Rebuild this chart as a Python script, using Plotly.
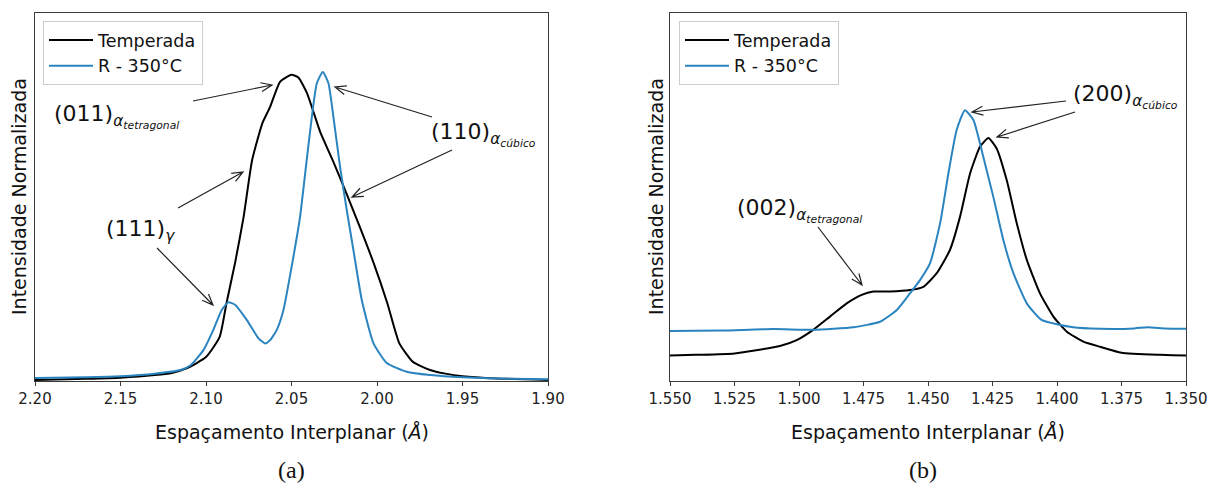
import math
import plotly.graph_objects as go

# ---------------- data ----------------
# Panel (a)
d_a_temp = [2.200, 2.170, 2.150, 2.130, 2.120, 2.111, 2.100, 2.092, 2.088, 2.083,
            2.078, 2.073, 2.067, 2.0625, 2.0567, 2.050, 2.046, 2.041, 2.033, 2.026,
            2.018, 2.010, 2.002, 1.994, 1.987, 1.979, 1.969, 1.960, 1.950, 1.930, 1.900]
i_a_temp = [0.003, 0.006, 0.009, 0.016, 0.022, 0.035, 0.065, 0.120, 0.212, 0.321,
            0.446, 0.601, 0.701, 0.745, 0.813, 0.832, 0.825, 0.783, 0.674, 0.601,
            0.511, 0.418, 0.321, 0.212, 0.103, 0.052, 0.030, 0.020, 0.013, 0.007, 0.003]

d_a_r350 = [2.200, 2.170, 2.150, 2.130, 2.115, 2.109, 2.1015, 2.0957, 2.0908, 2.0869,
            2.083, 2.0762, 2.0693, 2.0654, 2.0625, 2.0586, 2.0547, 2.0499, 2.045, 2.0411,
            2.0381, 2.0352, 2.0317, 2.0284, 2.0255, 2.0216, 2.0177, 2.0138, 2.0089, 2.0021,
            1.9943, 1.9826, 1.9689, 1.950, 1.920, 1.900]
i_a_r350 = [0.008, 0.010, 0.013, 0.020, 0.030, 0.043, 0.084, 0.139, 0.193, 0.214,
            0.207, 0.166, 0.116, 0.102, 0.111, 0.139, 0.193, 0.311, 0.446, 0.601,
            0.718, 0.809, 0.840, 0.809, 0.718, 0.582, 0.465, 0.356, 0.220, 0.103,
            0.049, 0.025, 0.016, 0.010, 0.006, 0.005]

# Panel (b)
d_b_temp = [1.550, 1.540, 1.525, 1.5074, 1.5009, 1.4945, 1.488, 1.4815, 1.4757, 1.4712,
            1.4647, 1.457, 1.4518, 1.4466, 1.4415, 1.4376, 1.4337, 1.4298, 1.4266, 1.4234,
            1.4195, 1.4156, 1.4117, 1.4066, 1.4014, 1.3962, 1.3898, 1.3833, 1.375, 1.360, 1.350]
i_b_temp = [0.069, 0.071, 0.075, 0.095, 0.111, 0.139, 0.175, 0.211, 0.234, 0.243,
            0.243, 0.247, 0.256, 0.293, 0.356, 0.446, 0.564, 0.637, 0.660, 0.632,
            0.546, 0.429, 0.329, 0.238, 0.175, 0.134, 0.107, 0.093, 0.077, 0.071, 0.069]

d_b_r350 = [1.550, 1.530, 1.510, 1.4945, 1.4789, 1.4686, 1.4621, 1.457, 1.4531, 1.4492,
            1.4453, 1.4421, 1.4389, 1.4357, 1.4324, 1.4286, 1.4247, 1.4208, 1.4169, 1.4117,
            1.406, 1.3937, 1.3833, 1.370, 1.365, 1.358, 1.350]
i_b_r350 = [0.136, 0.137, 0.141, 0.139, 0.146, 0.161, 0.193, 0.238, 0.274, 0.320,
            0.429, 0.564, 0.682, 0.736, 0.709, 0.610, 0.501, 0.383, 0.293, 0.211,
            0.166, 0.146, 0.142, 0.143, 0.146, 0.143, 0.142]

series_names = ["Temperada", "R - 350°C"]
ticks_a = [2.20, 2.15, 2.10, 2.05, 2.00, 1.95, 1.90]
ticks_b = [1.550, 1.525, 1.500, 1.475, 1.450, 1.425, 1.400, 1.375, 1.350]
x_title = "Espaçamento Interplanar (<i>Å</i>)"
y_title = "Intensidade Normalizada"

# ---------------- styling ----------------
# the page body has an 8px default margin: the figure is drawn from (8, 8)
OFF = 8
W, H = 1226 - OFF, 493 - OFF
BLACK = "#000000"
BLUE = "#2a84c0"
AXC = "#3a3a3a"
FONT = "DejaVu Sans"


def px(x):
    return (x - OFF) / W


def py(y):
    return 1 - (y - OFF) / H


fig = go.Figure()
line_opts = dict(shape="spline", smoothing=0.5)
fig.add_trace(go.Scatter(x=d_a_temp, y=i_a_temp, mode="lines", name=series_names[0],
                         line=dict(color=BLACK, width=2, **line_opts),
                         xaxis="x", yaxis="y", legend="legend"))
fig.add_trace(go.Scatter(x=d_a_r350, y=i_a_r350, mode="lines", name=series_names[1],
                         line=dict(color=BLUE, width=2, **line_opts),
                         xaxis="x", yaxis="y", legend="legend"))
fig.add_trace(go.Scatter(x=d_b_temp, y=i_b_temp, mode="lines", name=series_names[0],
                         line=dict(color=BLACK, width=2, **line_opts),
                         xaxis="x2", yaxis="y2", legend="legend2"))
fig.add_trace(go.Scatter(x=d_b_r350, y=i_b_r350, mode="lines", name=series_names[1],
                         line=dict(color=BLUE, width=2, **line_opts),
                         xaxis="x2", yaxis="y2", legend="legend2"))

xa_common = dict(showgrid=False, zeroline=False, showline=True, mirror=True,
                 linecolor=AXC, linewidth=1, ticks="outside", ticklen=4,
                 tickcolor=AXC, tickwidth=1, automargin=False,
                 tickfont=dict(family=FONT, size=15, color="#222222"))
ya_common = dict(showgrid=False, zeroline=False, showline=True, mirror=True,
                 linecolor=AXC, linewidth=1, ticks="", showticklabels=False,
                 automargin=False, range=[0, 1])

ydom = [py(381), py(13)]
legend_common = dict(xanchor="left", yanchor="top", bgcolor="white",
                     bordercolor="#cccccc", borderwidth=1, tracegroupgap=0,
                     itemwidth=44,
                     font=dict(family=FONT, size=17.5, color="#111111"))
fig.update_layout(
    width=W, height=H,
    margin=dict(l=0, r=0, t=0, b=0, pad=0, autoexpand=False),
    paper_bgcolor="white", plot_bgcolor="white",
    font=dict(family=FONT, color="#111111"),
    xaxis=dict(domain=[px(35), px(548)], range=[2.20, 1.90],
               tickvals=ticks_a, ticktext=[f"{t:.2f}" for t in ticks_a],
               anchor="y", **xa_common),
    yaxis=dict(domain=ydom, anchor="x", **ya_common),
    xaxis2=dict(domain=[px(670), px(1186)], range=[1.550, 1.350],
                tickvals=ticks_b, ticktext=[f"{t:.3f}" for t in ticks_b],
                anchor="y2", **xa_common),
    yaxis2=dict(domain=ydom, anchor="x2", **ya_common),
    legend=dict(x=px(43), y=py(21), **legend_common),
    legend2=dict(x=px(679), y=py(21), **legend_common),
)

# ---------------- texts ----------------
annos = []


def text(x, y, s, size, xanchor="left", angle=0, family=FONT):
    annos.append(dict(x=px(x), y=py(y), xref="paper", yref="paper", text=s,
                      showarrow=False, xanchor=xanchor, yanchor="middle",
                      textangle=angle, font=dict(family=family, size=size, color="#111111")))


# axis titles
text(291.5, 432, x_title, 19, xanchor="center")
text(928, 432, x_title, 19, xanchor="center")
text(19, 197, y_title, 19, xanchor="center", angle=-90)
text(656, 197, y_title, 19, xanchor="center", angle=-90)
# panel letters
text(291, 470, "(a)", 24, xanchor="center", family="Liberation Serif")
text(923, 470, "(b)", 24, xanchor="center", family="Liberation Serif")

# peak labels
text(52, 116, "(011)<sub><i>α<sub>tetragonal</sub></i></sub>", 22)
text(429, 135, "(110)<sub><i>α<sub>cúbico</sub></i></sub>", 22)
text(104, 231, "(111)<sub><i>γ</i></sub>", 22)
text(1071, 96, "(200)<sub><i>α<sub>cúbico</sub></i></sub>", 22)
text(735, 210, "(002)<sub><i>α<sub>tetragonal</sub></i></sub>", 22)

fig.update_layout(annotations=annos)

# ---------------- arrows (open heads) ----------------
arrows = [
    ((193, 101), (272, 85)),
    ((432, 117), (335, 87)),
    ((452, 150), (352, 197)),
    ((178, 208), (243, 172)),
    ((157, 248), (213, 305)),
    ((1066, 101), (972, 112)),
    ((1075, 112), (997, 137)),
    ((818, 227), (862, 285)),
]


def arrow_path(p0, p1, L=11, Wd=4.5):
    (x0, y0), (x1, y1) = p0, p1
    dx, dy = x1 - x0, y1 - y0
    n = math.hypot(dx, dy)
    ux, uy = dx / n, dy / n
    bx, by = x1 - ux * L, y1 - uy * L
    nx, ny = -uy, ux
    lx, ly = bx + nx * Wd, by + ny * Wd
    rx, ry = bx - nx * Wd, by - ny * Wd
    return (f"M {px(x0)},{py(y0)} L {px(x1)},{py(y1)} "
            f"M {px(lx)},{py(ly)} L {px(x1)},{py(y1)} L {px(rx)},{py(ry)}")


shapes = [dict(type="path", xref="paper", yref="paper", path=arrow_path(a, b),
               line=dict(color="#222222", width=1.2)) for a, b in arrows]
fig.update_layout(shapes=shapes)

fig.write_html("out.html")
